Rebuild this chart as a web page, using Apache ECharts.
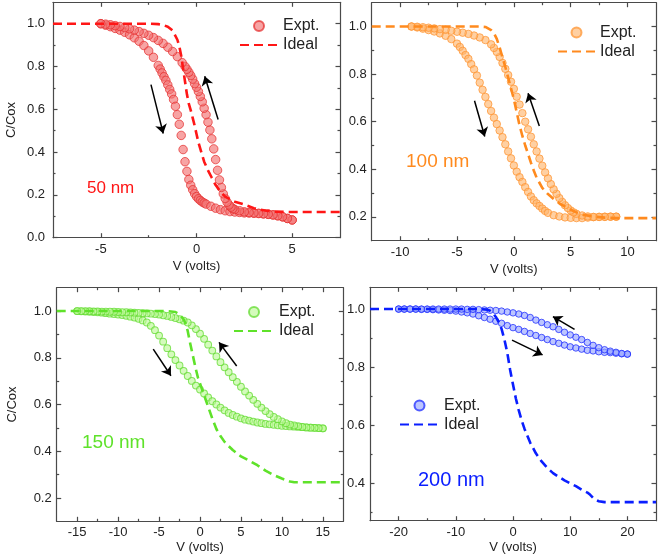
<!DOCTYPE html>
<html><head><meta charset="utf-8">
<script src="https://cdn.jsdelivr.net/npm/echarts@6/dist/echarts.min.js"></script>
<style>html,body{margin:0;padding:0;background:#fff}#c{width:660px;height:560px}</style>
</head><body><div id="c"></div>
<script>
// ---------- DATA ----------
// Panel 1: 50 nm
const p1_down = [[-5,1.0],[-4.75,0.993],[-4.5,0.986],[-4.25,0.978],[-4,0.97],[-3.75,0.96],[-3.5,0.948],[-3.25,0.934],[-3,0.918],[-2.75,0.898],[-2.5,0.873],[-2.25,0.843],[-2,0.805],[-1.9,0.788],[-1.8,0.77],[-1.7,0.752],[-1.6,0.735],[-1.5,0.714],[-1.4,0.693],[-1.3,0.672],[-1.2,0.646],[-1.1,0.614],[-1,0.575],[-0.9,0.53],[-0.8,0.478],[-0.7,0.412],[-0.6,0.355],[-0.5,0.31],[-0.4,0.272],[-0.3,0.245],[-0.2,0.224],[-0.1,0.206],[0,0.192],[0.1,0.182],[0.2,0.174],[0.3,0.167],[0.4,0.162],[0.5,0.157],[0.75,0.147],[1,0.138],[1.25,0.131],[1.5,0.126],[1.75,0.122],[2,0.12],[2.25,0.118],[2.5,0.116],[2.75,0.115],[3,0.114],[3.25,0.113],[3.5,0.111],[3.75,0.109],[4,0.106],[4.25,0.102],[4.5,0.097],[4.75,0.09],[5,0.083]];
const p1_up = [[5,0.083],[4.75,0.09],[4.5,0.098],[4.25,0.103],[4,0.107],[3.75,0.11],[3.5,0.112],[3.25,0.114],[3,0.116],[2.75,0.118],[2.5,0.121],[2.25,0.126],[2,0.132],[1.9,0.136],[1.8,0.143],[1.7,0.153],[1.6,0.166],[1.5,0.183],[1.4,0.205],[1.3,0.235],[1.2,0.27],[1.1,0.315],[1,0.365],[0.9,0.415],[0.8,0.462],[0.7,0.503],[0.6,0.54],[0.5,0.575],[0.4,0.605],[0.3,0.635],[0.2,0.66],[0.1,0.683],[0,0.703],[-0.1,0.72],[-0.2,0.741],[-0.3,0.758],[-0.4,0.773],[-0.5,0.787],[-0.6,0.8],[-0.75,0.818],[-1,0.846],[-1.25,0.87],[-1.5,0.89],[-1.75,0.908],[-2,0.922],[-2.25,0.935],[-2.5,0.946],[-2.75,0.955],[-3,0.963],[-3.25,0.97],[-3.5,0.976],[-3.75,0.982],[-4,0.987],[-4.25,0.991],[-4.5,0.995],[-4.75,0.998],[-5,1.0]];
const p1_ideal = [[-7.5,1.0],[-2.5,1.0],[-2,0.998],[-1.75,0.994],[-1.5,0.986],[-1.25,0.968],[-1,0.925],[-0.9,0.895],[-0.8,0.85],[-0.7,0.79],[-0.6,0.73],[-0.5,0.67],[-0.4,0.625],[-0.3,0.595],[-0.2,0.56],[-0.1,0.525],[0,0.485],[0.1,0.445],[0.2,0.415],[0.3,0.385],[0.4,0.355],[0.5,0.335],[0.6,0.315],[0.8,0.28],[1,0.246],[1.25,0.215],[1.5,0.192],[2,0.168],[2.5,0.155],[3,0.138],[3.5,0.128],[4,0.122],[5,0.12],[7.5,0.12]];
const p1_arrows = [[[-2.38,0.715],[-1.74,0.487]],[[1.13,0.552],[0.43,0.754]]];

// Panel 2: 100 nm
const p2_down = [[-9,1.0],[-8.5,0.996],[-8,0.991],[-7.5,0.985],[-7,0.979],[-6.5,0.971],[-6,0.961],[-5.5,0.947],[-5,0.928],[-4.75,0.914],[-4.5,0.898],[-4.25,0.88],[-4,0.864],[-3.75,0.842],[-3.5,0.82],[-3.25,0.794],[-3,0.764],[-2.75,0.734],[-2.5,0.704],[-2.25,0.674],[-2,0.645],[-1.75,0.617],[-1.5,0.59],[-1.25,0.563],[-1,0.535],[-0.75,0.505],[-0.5,0.475],[-0.25,0.446],[0,0.416],[0.25,0.39],[0.5,0.367],[0.75,0.347],[1,0.325],[1.25,0.305],[1.5,0.286],[1.75,0.27],[2,0.257],[2.25,0.246],[2.5,0.235],[2.75,0.225],[3,0.217],[3.5,0.207],[4,0.202],[4.5,0.198],[5,0.196],[5.5,0.195],[6,0.195],[6.5,0.197],[7,0.199],[7.5,0.2],[8,0.201],[8.5,0.201],[9,0.201]];
const p2_up = [[9,0.201],[8.5,0.201],[8,0.2],[7.5,0.2],[7,0.2],[6.5,0.202],[6,0.206],[5.5,0.213],[5.25,0.219],[5,0.227],[4.75,0.237],[4.5,0.249],[4.25,0.263],[4,0.279],[3.75,0.297],[3.5,0.316],[3.25,0.338],[3,0.362],[2.75,0.387],[2.5,0.415],[2.25,0.445],[2,0.475],[1.75,0.505],[1.5,0.537],[1.25,0.568],[1,0.6],[0.75,0.636],[0.5,0.672],[0.25,0.705],[0,0.738],[-0.25,0.768],[-0.5,0.796],[-0.75,0.822],[-1,0.847],[-1.25,0.872],[-1.5,0.893],[-1.75,0.91],[-2,0.925],[-2.5,0.943],[-3,0.954],[-3.5,0.962],[-4,0.969],[-4.5,0.974],[-5,0.978],[-5.5,0.982],[-6,0.986],[-6.5,0.989],[-7,0.992],[-7.5,0.995],[-8,0.997],[-8.5,0.999],[-9,1.0]];
const p2_ideal = [[-12.5,1.0],[-3,1.0],[-2.5,0.998],[-2,0.985],[-1.75,0.972],[-1.5,0.948],[-1.25,0.912],[-1,0.87],[-0.75,0.83],[-0.5,0.785],[-0.25,0.74],[0,0.695],[0.25,0.64],[0.5,0.585],[0.75,0.54],[1,0.5],[1.25,0.465],[1.5,0.428],[1.75,0.395],[2,0.365],[2.5,0.322],[3,0.296],[3.5,0.275],[4,0.257],[4.5,0.243],[5,0.23],[5.5,0.219],[6,0.21],[7,0.201],[8,0.197],[9,0.195],[12.5,0.195]];
const p2_arrows = [[[-3.46,0.688],[-2.56,0.538]],[[2.24,0.582],[1.25,0.72]]];

// Panel 3: 150 nm
const p3_down = [[-15,1.0],[-14.5,0.999],[-14,0.998],[-13.5,0.997],[-13,0.996],[-12.5,0.995],[-12,0.993],[-11.5,0.991],[-11,0.989],[-10.5,0.987],[-10,0.985],[-9.5,0.983],[-9,0.98],[-8.5,0.976],[-8,0.972],[-7.5,0.967],[-7,0.96],[-6.5,0.951],[-6,0.937],[-5.5,0.918],[-5,0.895],[-4.5,0.869],[-4,0.841],[-3.5,0.815],[-3,0.79],[-2.5,0.767],[-2,0.744],[-1.5,0.722],[-1,0.701],[-0.5,0.681],[0,0.664],[0.5,0.647],[1,0.63],[1.5,0.614],[2,0.6],[2.5,0.587],[3,0.575],[3.5,0.564],[4,0.555],[4.5,0.548],[5,0.541],[5.5,0.535],[6,0.531],[6.5,0.527],[7,0.523],[7.5,0.52],[8,0.517],[8.5,0.515],[9,0.513],[9.5,0.511],[10,0.509],[10.5,0.508],[11,0.506],[11.5,0.505],[12,0.504],[12.5,0.503],[13,0.502],[13.5,0.501],[14,0.5],[14.5,0.499],[15,0.498]];
const p3_up = [[15,0.498],[14.5,0.499],[14,0.5],[13.5,0.501],[13,0.502],[12.5,0.504],[12,0.507],[11.5,0.51],[11,0.514],[10.5,0.52],[10,0.528],[9.5,0.537],[9,0.547],[8.5,0.559],[8,0.572],[7.5,0.587],[7,0.603],[6.5,0.62],[6,0.638],[5.5,0.656],[5,0.676],[4.5,0.697],[4,0.717],[3.5,0.738],[3,0.759],[2.5,0.781],[2,0.806],[1.5,0.831],[1,0.856],[0.5,0.881],[0,0.903],[-0.5,0.923],[-1,0.939],[-1.5,0.951],[-2,0.959],[-2.5,0.965],[-3,0.97],[-3.5,0.975],[-4,0.979],[-4.5,0.982],[-5,0.985],[-5.5,0.987],[-6,0.989],[-6.5,0.99],[-7,0.991],[-7.5,0.992],[-8,0.993],[-8.5,0.994],[-9,0.995],[-9.5,0.995],[-10,0.996],[-10.5,0.997],[-11,0.997],[-11.5,0.998],[-12,0.998],[-12.5,0.999],[-13,0.999],[-13.5,1.0],[-14,1.0],[-14.5,1.0],[-15,1.0]];
const p3_ideal = [[-17.5,1.0],[-4,1.0],[-3,0.996],[-2.5,0.985],[-2,0.965],[-1.75,0.945],[-1.5,0.915],[-1.25,0.87],[-1,0.83],[-0.75,0.79],[-0.5,0.75],[-0.25,0.715],[0,0.69],[0.25,0.665],[0.5,0.64],[0.75,0.615],[1,0.59],[1.5,0.54],[2,0.495],[2.5,0.465],[3,0.44],[3.5,0.422],[4,0.405],[5,0.378],[6,0.36],[7,0.34],[8,0.317],[9,0.298],[10,0.283],[11,0.27],[11.5,0.267],[17.5,0.267]];
const p3_arrows = [[[-5.71,0.837],[-3.55,0.723]],[[4.48,0.765],[2.32,0.866]]];

// Panel 4: 200 nm
const p4_down = [[-20,1.0],[-19,1.0],[-18,1.0],[-17,1.0],[-16,0.999],[-15,0.999],[-14,0.998],[-13,0.997],[-12,0.996],[-11,0.995],[-10,0.993],[-9,0.99],[-8,0.987],[-7,0.983],[-6,0.977],[-5,0.971],[-4,0.965],[-3,0.958],[-2,0.951],[-1,0.943],[0,0.936],[1,0.93],[2,0.923],[3,0.916],[4,0.909],[5,0.902],[6,0.895],[7,0.888],[8,0.882],[9,0.876],[10,0.87],[11,0.866],[12,0.862],[13,0.858],[14,0.856],[15,0.853],[16,0.851],[17,0.85],[18,0.848],[19,0.846],[20,0.845]];
const p4_up = [[20,0.845],[19,0.847],[18,0.851],[17,0.855],[16,0.86],[15,0.867],[14,0.875],[13,0.885],[12,0.895],[11,0.903],[10,0.911],[9,0.92],[8,0.93],[7,0.939],[6,0.946],[5,0.954],[4,0.962],[3,0.971],[2,0.978],[1,0.983],[0,0.987],[-1,0.99],[-2,0.993],[-3,0.995],[-4,0.996],[-5,0.997],[-6,0.998],[-7,0.999],[-8,0.999],[-9,1.0],[-10,1.0],[-11,1.0],[-12,1.0],[-13,1.0],[-14,1.0],[-15,1.0],[-16,1.0],[-17,1.0],[-18,1.0],[-19,1.0],[-20,1.0]];
const p4_ideal = [[-25,1.0],[-6,1.0],[-4.5,0.998],[-4,0.994],[-3.5,0.986],[-3,0.973],[-2.5,0.955],[-2,0.932],[-1.5,0.895],[-1,0.85],[-0.5,0.79],[0,0.74],[0.5,0.692],[1,0.652],[1.5,0.617],[2,0.588],[3,0.54],[4,0.503],[5,0.475],[6,0.453],[7,0.435],[8,0.422],[9,0.41],[10,0.4],[11,0.39],[12,0.378],[13,0.368],[13.5,0.36],[14,0.35],[14.5,0.343],[15,0.338],[16,0.335],[25,0.335]];
const p4_arrows = [[[10.76,0.93],[6.98,0.974]],[[-0.17,0.893],[5.17,0.842]]];

// Tick values
const p1_xMajor = [-5,0,5], p1_xMinor = [-2.5,2.5];
const p1_yMajor = [0,0.2,0.4,0.6,0.8,1.0], p1_yMinor = [0.1,0.3,0.5,0.7,0.9];
const p2_xMajor = [-10,-5,0,5,10], p2_xMinor = [-7.5,-2.5,2.5,7.5];
const p2_yMajor = [0.2,0.4,0.6,0.8,1.0], p2_yMinor = [0.3,0.5,0.7,0.9];
const p3_xMajor = [-15,-10,-5,0,5,10,15], p3_xMinor = [-12.5,-7.5,-2.5,2.5,7.5,12.5];
const p3_yMajor = [0.2,0.4,0.6,0.8,1.0], p3_yMinor = [0.3,0.5,0.7,0.9];
const p4_xMajor = [-20,-10,0,10,20], p4_xMinor = [-15,-5,5,15];
const p4_yMajor = [0.4,0.6,0.8,1.0], p4_yMinor = [0.3,0.5,0.7,0.9];

const labels = ['50 nm','100 nm','150 nm','200 nm'];
const xTitle = 'V (volts)', yTitle = 'C/Cox';
const legendNames = ['Expt.','Ideal'];

// ---------- STYLE / LAYOUT ----------
const FONT = 'Liberation Sans, Arial, sans-serif';
const AX = '#4a4a4a';
const panels = [
  {grid:{left:53,top:2.3,width:287,height:235.4}, x:[-7.5,7.5], y:[0,1.1], xMaj:p1_xMajor, xMin:p1_xMinor, yMaj:p1_yMajor, yMin:p1_yMinor,
   down:p1_down, up:p1_up, ideal:p1_ideal, arrows:p1_arrows, fill:'rgba(242,112,112,0.8)', edge:'rgba(228,45,45,0.9)', line:'#ff1616', size:8.5,
   yName:true, yNameGap:35, yLabelMargin:8, xNameGap:22, label:{x:87,y:188,size:17}, legend:{left:239,top:18,w:38}},
  {grid:{left:371.7,top:2.7,width:284.3,height:238}, x:[-12.5,12.5], y:[0.1,1.1], xMaj:p2_xMajor, xMin:p2_xMinor, yMaj:p2_yMajor, yMin:p2_yMinor,
   down:p2_down, up:p2_up, ideal:p2_ideal, arrows:p2_arrows, fill:'rgba(255,182,110,0.8)', edge:'rgba(255,145,45,0.9)', line:'#ff8a1e', size:7.5,
   yName:false, yLabelMargin:5, xNameGap:22, label:{x:406,y:162,size:19}, legend:{left:557,top:24.5,w:37}},
  {grid:{left:56.7,top:287.7,width:286.6,height:233.6}, x:[-17.5,17.5], y:[0.1,1.1], xMaj:p3_xMajor, xMin:p3_xMinor, yMaj:p3_yMajor, yMin:p3_yMinor,
   down:p3_down, up:p3_up, ideal:p3_ideal, arrows:p3_arrows, fill:'rgba(188,248,150,0.8)', edge:'rgba(100,220,50,0.95)', line:'#5fe22a', size:6.8,
   yName:true, yNameGap:38, yLabelMargin:5, xNameGap:20, label:{x:82,y:443,size:19}, legend:{left:233,top:304,w:40}},
  {grid:{left:370,top:287.3,width:286,height:233.4}, x:[-25,25], y:[0.271,1.075], xMaj:p4_xMajor, xMin:p4_xMinor, yMaj:p4_yMajor, yMin:p4_yMinor,
   down:p4_down, up:p4_up, ideal:p4_ideal, arrows:p4_arrows, fill:'rgba(150,165,255,0.8)', edge:'rgba(30,45,255,0.95)', line:'#0a1eff', size:6.5,
   yName:false, yLabelMargin:5, xNameGap:20, label:{x:418,y:480,size:20}, legend:{left:399,top:397.5,w:39}}
];

const chart = echarts.init(document.getElementById('c'), null, {renderer:'canvas'});
const grids = [], xAxes = [], yAxes = [], series = [], legends = [], graphics = [];
const lineStyle = {color:AX, width:1.2};

panels.forEach((p, g) => {
  grids.push(Object.assign({containLabel:false}, p.grid));
  const base = (min,max) => ({type:'value', gridIndex:g, min, max, splitLine:{show:false}, silent:true});
  const fmtX = v => String(v);
  const fmtY = v => v.toFixed(1);
  xAxes.push(Object.assign(base(p.x[0],p.x[1]), {position:'bottom',
    axisLine:{show:true,onZero:false,lineStyle}, axisTick:{show:true,inside:true,length:4.5,customValues:p.xMaj,lineStyle},
    axisLabel:{show:true,customValues:p.xMaj,formatter:fmtX,margin:5,fontSize:13,color:'#222',fontFamily:FONT},
    name:xTitle, nameLocation:'middle', nameGap:p.xNameGap, nameTextStyle:{fontSize:13,color:'#222',fontFamily:FONT}}));
  xAxes.push(Object.assign(base(p.x[0],p.x[1]), {position:'bottom',
    axisLine:{show:false,onZero:false}, axisTick:{show:true,inside:true,length:2.5,customValues:p.xMin,lineStyle}, axisLabel:{show:false}}));
  xAxes.push(Object.assign(base(p.x[0],p.x[1]), {position:'top',
    axisLine:{show:true,onZero:false,lineStyle}, axisTick:{show:true,inside:true,length:4.5,customValues:p.xMaj,lineStyle}, axisLabel:{show:false}}));
  xAxes.push(Object.assign(base(p.x[0],p.x[1]), {position:'top',
    axisLine:{show:false,onZero:false}, axisTick:{show:true,inside:true,length:2.5,customValues:p.xMin,lineStyle}, axisLabel:{show:false}}));
  const yMain = Object.assign(base(p.y[0],p.y[1]), {position:'left',
    axisLine:{show:true,onZero:false,lineStyle}, axisTick:{show:true,inside:true,length:4.5,customValues:p.yMaj,lineStyle},
    axisLabel:{show:true,customValues:p.yMaj,formatter:fmtY,margin:p.yLabelMargin,fontSize:13,color:'#222',fontFamily:FONT}});
  if (p.yName) Object.assign(yMain, {name:yTitle, nameLocation:'middle', nameRotate:90, nameGap:p.yNameGap, nameTextStyle:{fontSize:13,color:'#222',fontFamily:FONT}});
  yAxes.push(yMain);
  yAxes.push(Object.assign(base(p.y[0],p.y[1]), {position:'left',
    axisLine:{show:false,onZero:false}, axisTick:{show:true,inside:true,length:2.5,customValues:p.yMin,lineStyle}, axisLabel:{show:false}}));
  yAxes.push(Object.assign(base(p.y[0],p.y[1]), {position:'right',
    axisLine:{show:true,onZero:false,lineStyle}, axisTick:{show:true,inside:true,length:4.5,customValues:p.yMaj,lineStyle}, axisLabel:{show:false}}));
  yAxes.push(Object.assign(base(p.y[0],p.y[1]), {position:'right',
    axisLine:{show:false,onZero:false}, axisTick:{show:true,inside:true,length:2.5,customValues:p.yMin,lineStyle}, axisLabel:{show:false}}));

  const xi = 4*g, yi = 4*g;
  const nE = legendNames[0] + '#' + g, nI = legendNames[1] + '#' + g;
  series.push({type:'scatter', name:nE, xAxisIndex:xi, yAxisIndex:yi, data:p.down.concat(p.up),
    symbol:'circle', symbolSize:p.size, itemStyle:{color:p.fill, borderColor:p.edge, borderWidth:1}, z:2});
  series.push({type:'line', name:nI, xAxisIndex:xi, yAxisIndex:yi, data:p.ideal, symbol:'none', showSymbol:false,
    lineStyle:{color:p.line, width:2.6, type:[9,5]}, itemStyle:{color:'rgba(0,0,0,0)'}, z:3});
  // arrows (annotation lines in data coordinates)
  series.push({type:'line', xAxisIndex:xi, yAxisIndex:yi, data:[], silent:true, z:4,
    markLine:{silent:true, symbol:['none','arrow'], symbolSize:9, label:{show:false}, emphasis:{disabled:true}, animation:false,
      lineStyle:{color:'#000', width:1.5, type:'solid'}, itemStyle:{color:'#000'},
      data:p.arrows.map(a => [{coord:a[0]},{coord:a[1]}])}});

  legends.push({show:true, orient:'vertical', left:p.legend.left, top:p.legend.top, itemWidth:p.legend.w, itemHeight:10, itemGap:3,
    data:[nE, nI], selectedMode:false, formatter: n => n.split('#')[0],
    textStyle:{fontSize:16, color:'#222', fontFamily:FONT}, padding:0});

  graphics.push({type:'text', x:p.label.x, y:p.label.y, style:{text:labels[g], fill:p.line, fontSize:p.label.size, fontFamily:FONT, verticalAlign:'middle', align:'left'}});
});

chart.setOption({
  animation:false, backgroundColor:'#fff',
  grid:grids, xAxis:xAxes, yAxis:yAxes, series, legend:legends, graphic:graphics
});
</script></body></html>
